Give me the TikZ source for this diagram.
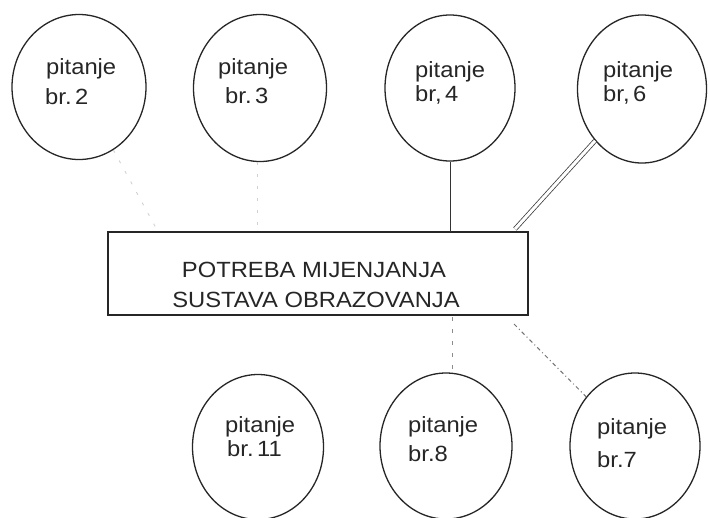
\documentclass[tikz,border=0pt]{standalone}
\usepackage{fontspec}
\setmainfont{Liberation Sans}
\usetikzlibrary{shapes.geometric}
\newcommand\stretchtxt[1]{\scalebox{1.08}[1]{#1}}
\tikzset{
  q/.style={ellipse, draw=black!85, line width=1.3pt, inner sep=0pt},
  lbl/.style={anchor=mid west, inner sep=0pt, font=\fontsize{22}{26}\selectfont, text=black!85},
  mainbox/.style={draw=black!85, line width=1.4pt, minimum width=420pt, minimum height=83pt, inner sep=0pt},
  solidlink/.style={draw=black!80, line width=1pt},
  doublelink/.style={draw=black!75, line width=0.8pt, double=white, double distance=3pt},
  dashedlink/.style={draw=black!45, line width=0.9pt, dash pattern=on 4pt off 8pt},
  dashdotlink/.style={draw=black!55, line width=1pt, dash pattern=on 4pt off 3pt on 1pt off 3pt},
  faintlink/.style={draw=black!18, line width=0.9pt, dash pattern=on 3pt off 9pt}
}
\begin{document}
\begin{tikzpicture}[x=1pt,y=-1pt]
\useasboundingbox[fill=white] (0,0) rectangle (708,517);
% circles
\node[q, minimum width=134pt, minimum height=145pt] (c2) at (79,87) {};
\node[q, minimum width=133pt, minimum height=147pt] (c3) at (260,88) {};
\node[q, minimum width=130pt, minimum height=146pt] (c4) at (450,88) {};
\node[q, minimum width=129pt, minimum height=148pt] (c6) at (642,89) {};
\node[q, minimum width=131pt, minimum height=145pt] (c11) at (258,447) {};
\node[q, minimum width=132pt, minimum height=146pt] (c8) at (446,446) {};
\node[q, minimum width=130pt, minimum height=146pt] (c7) at (635,446) {};
% circle labels
\node[lbl] (t2a) at (46,72) {\stretchtxt{pitanje}};
\node[lbl] (t2b) at (45,102) {\stretchtxt{br.\hspace{0.15em}2}};
\node[lbl] (t3a) at (218,72) {\stretchtxt{pitanje}};
\node[lbl] (t3b) at (225,101) {\stretchtxt{br.\hspace{0.15em}3}};
\node[lbl] (t4a) at (415,75) {\stretchtxt{pitanje}};
\node[lbl] (t4b) at (415,99) {\stretchtxt{br,\hspace{0.15em}4}};
\node[lbl] (t6a) at (603,75) {\stretchtxt{pitanje}};
\node[lbl] (t6b) at (603,99) {\stretchtxt{br,\hspace{0.15em}6}};
\node[lbl] (t11a) at (225,430) {\stretchtxt{pitanje}};
\node[lbl] (t11b) at (227,454) {\stretchtxt{br.\hspace{0.15em}11}};
\node[lbl] (t8a) at (408,430) {\stretchtxt{pitanje}};
\node[lbl] (t8b) at (408,459) {\stretchtxt{br.8}};
\node[lbl] (t7a) at (597,432) {\stretchtxt{pitanje}};
\node[lbl] (t7b) at (597,465) {\stretchtxt{br.7}};
% central box
\node[mainbox] (box) at (318,273.5) {};
\node[lbl, anchor=center] (bt1) at (314,270) {\stretchtxt{POTREBA MIJENJANJA}};
\node[lbl, anchor=center] (bt2) at (316,300) {\stretchtxt{SUSTAVA OBRAZOVANJA}};
% connector ends
\coordinate (b4) at (450,232);
\coordinate (b6) at (515,229);
\coordinate (b8) at (452,317);
\coordinate (b7) at (514,324);
\coordinate (b3) at (257,230);
\coordinate (b2) at (156,228);
% connectors
\draw[solidlink] (c4.south) -- (b4);
\draw[doublelink] (c6) -- (b6);
\draw[dashedlink] (b8) -- (c8.north -| b8);
\draw[dashdotlink] (b7) -- (c7);
\draw[faintlink] (c3.south -| b3) -- (b3);
\draw[faintlink] (c2) -- (b2);
\end{tikzpicture}
\end{document}
